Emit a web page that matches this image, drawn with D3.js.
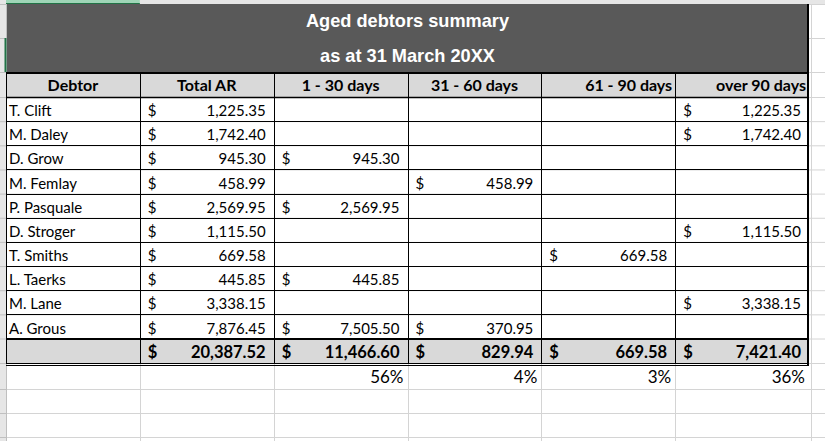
<!DOCTYPE html>
<html><head><meta charset="utf-8">
<script src="https://cdn.jsdelivr.net/npm/d3@7"></script>
<style>html,body{margin:0;padding:0;background:#fff;overflow:hidden}</style>
</head><body><svg id="c" width="825" height="441"></svg>
<script>
const titleLines = ["Aged debtors summary", "as at 31 March 20XX"];
const headers = ["Debtor", "Total AR", "1 - 30 days", "31 - 60 days", "61 - 90 days", "over 90 days"];
const headerAlign = ["middle", "middle", "middle", "middle", "end", "end"];
const debtors = ["T. Clift", "M. Daley", "D. Grow", "M. Femlay", "P. Pasquale", "D. Stroger", "T. Smiths", "L. Taerks", "M. Lane", "A. Grous"];
const totalAR = [1225.35, 1742.40, 945.30, 458.99, 2569.95, 1115.50, 669.58, 445.85, 3338.15, 7876.45];
const days1to30 = [null, null, 945.30, null, 2569.95, null, null, 445.85, null, 7505.50];
const days31to60 = [null, null, null, 458.99, null, null, null, null, null, 370.95];
const days61to90 = [null, null, null, null, null, null, 669.58, null, null, null];
const over90 = [1225.35, 1742.40, null, null, null, 1115.50, null, null, 3338.15, null];
const totals = [20387.52, 11466.60, 829.94, 669.58, 7421.40];
const percentLabels = [null, "56%", "4%", "3%", "36%"];

const svg = d3.select("#c");
const W = 825, H = 441;
const fmt = d3.format(",.2f");
const bodyFont = "Lato, 'Open Sans', sans-serif";

const x = d3.scaleBand().domain(d3.range(6)).range([6, 809]).paddingInner(0);
const yData = d3.scaleBand().domain(d3.range(debtors.length)).range([97, 338.5]);
const gridRowLines = [4, 38, 72, 97].concat(d3.range(1, 11).map(i => yData(i - 1) + yData.bandwidth()), [363, 389, 413, 437]);

// Excel background gridlines
const grid = svg.append("g");
gridRowLines.forEach(y => grid.append("line").attr("x1", 0).attr("x2", W).attr("y1", y + 0.5).attr("y2", y + 0.5).attr("stroke", "#d4d4d4"));
d3.range(7).forEach(i => {
  const xx = i < 6 ? x(i) : 809 + 2;
  grid.append("line").attr("x1", Math.round(xx) + 0.5).attr("x2", Math.round(xx) + 0.5).attr("y1", 4).attr("y2", H).attr("stroke", "#d4d4d4");
});
// row header strip and column header strip
svg.append("rect").attr("x", 0).attr("y", 0).attr("width", 6).attr("height", H).attr("fill", "#e6e6e6");
svg.append("line").attr("x1", 6.5).attr("x2", 6.5).attr("y1", 0).attr("y2", H).attr("stroke", "#bfbfbf");
gridRowLines.forEach(y => svg.append("line").attr("x1", 0).attr("x2", 6).attr("y1", y + 0.5).attr("y2", y + 0.5).attr("stroke", "#c0c0c0"));
svg.append("rect").attr("x", 0).attr("y", 0).attr("width", W).attr("height", 4).attr("fill", "#e6e6e6");
svg.append("rect").attr("x", 6).attr("y", 0).attr("width", x(1) - 6).attr("height", 4).attr("fill", "#9fd5b7");
svg.append("line").attr("x1", 6).attr("x2", x(1)).attr("y1", 3.5).attr("y2", 3.5).attr("stroke", "#217346");
svg.append("line").attr("x1", 5.5).attr("x2", 5.5).attr("y1", 38).attr("y2", 72).attr("stroke", "#217346").attr("stroke-width", 2);

// Title band
svg.append("rect").attr("x", 7).attr("y", 4).attr("width", 802).attr("height", 68).attr("fill", "#595959");
svg.selectAll("text.title").data(titleLines).join("text").attr("class", "title")
  .attr("x", (x(0) + 809) / 2).attr("y", (d, i) => 27 + i * 35)
  .attr("text-anchor", "middle").attr("fill", "#fff")
  .style("font-family", "'Liberation Sans', Arial, sans-serif").style("font-weight", "bold").style("font-size", "18.2px")
  .text(d => d);

// Header row
svg.append("rect").attr("x", 7).attr("y", 72).attr("width", 802).attr("height", 25).attr("fill", "#d9d9d9");
svg.selectAll("text.hdr").data(headers).join("text").attr("class", "hdr")
  .attr("x", (d, i) => headerAlign[i] === "middle" ? x(i) + x.bandwidth() / 2 : x(i) + x.bandwidth() - 3)
  .attr("y", 91).attr("text-anchor", (d, i) => headerAlign[i])
  .style("font-family", bodyFont).style("font-weight", "bold").style("font-size", "16px").attr("fill", "#000")
  .text(d => d);

// Data rows
const cols = [totalAR, days1to30, days31to60, days61to90, over90];
const body = svg.append("g").style("font-family", bodyFont).style("font-size", "15px").attr("fill", "#000");
debtors.forEach((name, r) => {
  const yb = yData(r) + yData.bandwidth() - 5;
  body.append("text").attr("x", x(0) + 3).attr("y", yb).text(name);
  cols.forEach((arr, c) => {
    const v = arr[r];
    if (v == null) return;
    body.append("text").attr("x", x(c + 1) + 8).attr("y", yb).text("$");
    body.append("text").attr("x", x(c + 1) + x.bandwidth() - 8).attr("y", yb).attr("text-anchor", "end").text(fmt(v));
  });
});

// Total row
svg.append("rect").attr("x", 7).attr("y", 338.5).attr("width", 802).attr("height", 24.5).attr("fill", "#d9d9d9");
const tot = svg.append("g").style("font-family", bodyFont).style("font-size", "16.5px").style("font-weight", "bold").attr("fill", "#000");
totals.forEach((v, c) => {
  tot.append("text").attr("x", x(c + 1) + 8).attr("y", 358).text("$");
  tot.append("text").attr("x", x(c + 1) + x.bandwidth() - 8).attr("y", 358).attr("text-anchor", "end").text(fmt(v));
});

// Percent row
svg.append("g").selectAll("text").data(percentLabels).join("text")
  .attr("x", (d, i) => x(i + 1) + x.bandwidth() - 4).attr("y", 383).attr("text-anchor", "end")
  .style("font-family", bodyFont).style("font-size", "17px").attr("fill", "#000")
  .text(d => d || "");

// Borders
const b = svg.append("g").attr("stroke", "#000");
d3.range(1, 6).forEach(i => b.append("line").attr("x1", Math.round(x(i)) + 0.5).attr("x2", Math.round(x(i)) + 0.5).attr("y1", 72).attr("y2", 363).attr("stroke-width", 1));
b.append("line").attr("x1", 6.5).attr("x2", 6.5).attr("y1", 72).attr("y2", 363);
b.append("line").attr("x1", 808).attr("x2", 808).attr("y1", 4).attr("y2", 365).attr("stroke-width", 2);
d3.range(1, 10).forEach(r => { const y = Math.round(yData(r)) + 0.5; b.append("line").attr("x1", 6).attr("x2", 809).attr("y1", y).attr("y2", y); });
b.append("line").attr("x1", 6).attr("x2", 809).attr("y1", 73).attr("y2", 73).attr("stroke-width", 2);
b.append("line").attr("x1", 6).attr("x2", 809).attr("y1", 97.5).attr("y2", 97.5).attr("stroke-width", 1.5);
b.append("line").attr("x1", 6).attr("x2", 809).attr("y1", 339).attr("y2", 339).attr("stroke-width", 2);
b.append("line").attr("x1", 6).attr("x2", 809).attr("y1", 363.5).attr("y2", 363.5);
b.append("line").attr("x1", 6).attr("x2", 809).attr("y1", 365.5).attr("y2", 365.5);
</script></body></html>
